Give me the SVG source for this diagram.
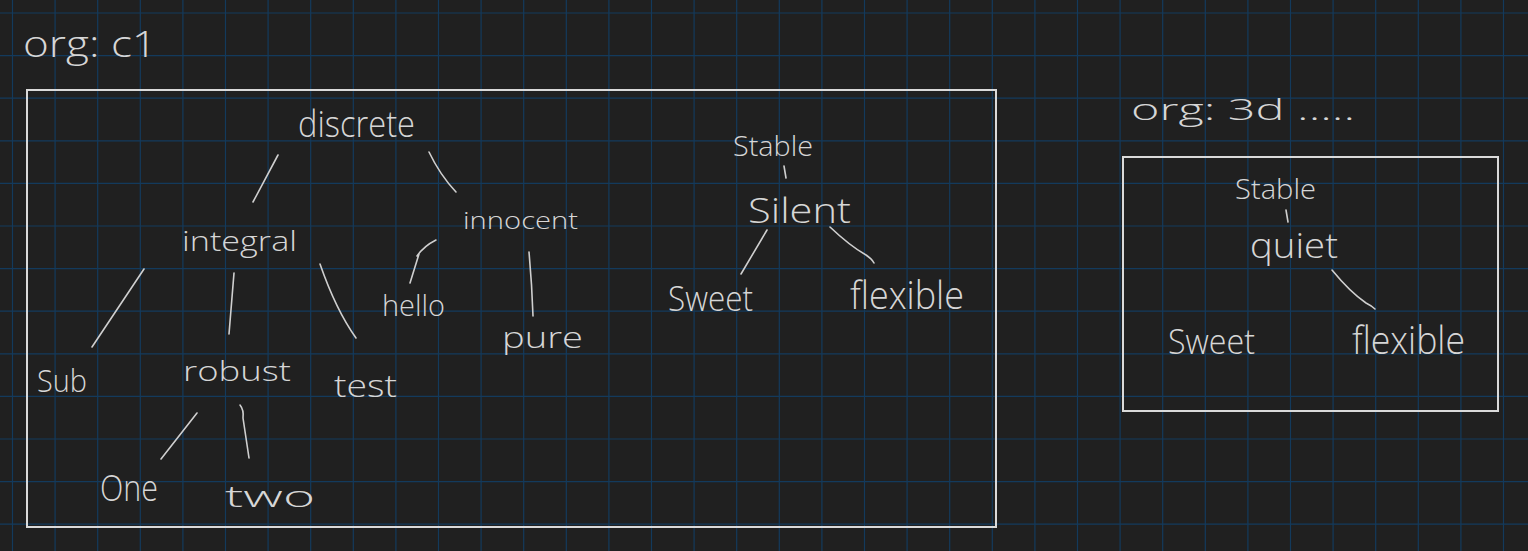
<svg xmlns="http://www.w3.org/2000/svg" width="1528" height="551" viewBox="0 0 1528 551">
<defs>
<style>
.grid{fill:none;stroke:#133a5c;stroke-width:1.2}
.t{font-family:"Open Sans","Liberation Sans",sans-serif;font-weight:300;fill:#d6d6d6}
.frame{fill:none;stroke:#dadada;stroke-width:2}
.c{fill:none;stroke:#cfcfcf;stroke-width:1.6;stroke-linecap:round;stroke-linejoin:round}
</style>
</defs>
<rect width="1528" height="551" fill="#202020"/>
<path class="grid" d="M12.5 0V551M55.1 0V551M97.7 0V551M140.3 0V551M182.9 0V551M225.5 0V551M268.1 0V551M310.7 0V551M353.3 0V551M395.9 0V551M438.5 0V551M481.1 0V551M523.7 0V551M566.3 0V551M608.9 0V551M651.5 0V551M694.1 0V551M736.7 0V551M779.3 0V551M821.9 0V551M864.5 0V551M907.1 0V551M949.7 0V551M992.3 0V551M1034.9 0V551M1077.5 0V551M1120.1 0V551M1162.7 0V551M1205.3 0V551M1247.9 0V551M1290.5 0V551M1333.1 0V551M1375.7 0V551M1418.3 0V551M1460.9 0V551M1503.5 0V551M0 13H1528M0 55.6H1528M0 98.2H1528M0 140.8H1528M0 183.4H1528M0 226H1528M0 268.6H1528M0 311.2H1528M0 353.8H1528M0 396.4H1528M0 439H1528M0 481.6H1528M0 524.2H1528"/>

<g id="cluster-c1">
<text class="t" x="23" y="57" font-size="36" textLength="134" lengthAdjust="spacingAndGlyphs">org: c1</text>
<rect class="frame" x="27" y="90" width="969" height="437"/>
</g>
<g id="cluster-3d">
<text class="t" x="1131" y="120" font-size="30" textLength="224" lengthAdjust="spacingAndGlyphs">org: 3d .....</text>
<rect class="frame" x="1123" y="157" width="375" height="254"/>
</g>

<g id="connectors">
<path class="c" d="M278 155 L253 202"/>
<path class="c" d="M429 152 Q440 175 456 192"/>
<path class="c" d="M144 269 L92 347"/>
<path class="c" d="M234 273 L229 334"/>
<path class="c" d="M320 264 Q336 310 356 338"/>
<path class="c" d="M410 283 L419 254 M417 256 Q424 246 436 240"/>
<path class="c" d="M529 252 Q532 285 533 316"/>
<path class="c" d="M197 413 L161 459"/>
<path class="c" d="M240 405 Q244 410 243 418 L249 458"/>
<path class="c" d="M784 166 L786 178"/>
<path class="c" d="M767 230 L741 274"/>
<path class="c" d="M830 227 Q850 246 866 255 Q872 259 874 263"/>
<path class="c" d="M1286 210 L1288 222"/>
<path class="c" d="M1332 270 Q1350 292 1366 303 Q1372 306 1375 309"/>
</g>

<g id="n-discrete"><text class="t" x="298" y="137" font-size="36" textLength="117" lengthAdjust="spacingAndGlyphs">discrete</text></g>
<g id="n-integral"><text class="t" x="182" y="251" font-size="28" textLength="115" lengthAdjust="spacingAndGlyphs">integral</text></g>
<g id="n-innocent"><text class="t" x="463" y="229" font-size="24" textLength="115" lengthAdjust="spacingAndGlyphs">innocent</text></g>
<g id="n-hello"><text class="t" x="382" y="316" font-size="30" textLength="63" lengthAdjust="spacingAndGlyphs">hello</text></g>
<g id="n-pure"><text class="t" x="502" y="348" font-size="30" textLength="81" lengthAdjust="spacingAndGlyphs">pure</text></g>
<g id="n-sub"><text class="t" x="37" y="392" font-size="32" textLength="50" lengthAdjust="spacingAndGlyphs">Sub</text></g>
<g id="n-robust"><text class="t" x="183" y="381" font-size="28" textLength="108" lengthAdjust="spacingAndGlyphs">robust</text></g>
<g id="n-test"><text class="t" x="334" y="397" font-size="32" textLength="63" lengthAdjust="spacingAndGlyphs">test</text></g>
<g id="n-one"><text class="t" x="100" y="501" font-size="36" textLength="58" lengthAdjust="spacingAndGlyphs">One</text></g>
<g id="n-two"><text class="t" x="225" y="507" font-size="30" textLength="90" lengthAdjust="spacingAndGlyphs">two</text></g>

<g id="n-stable-1"><text class="t" x="733" y="156" font-size="28" textLength="80" lengthAdjust="spacingAndGlyphs">Stable</text></g>
<g id="n-silent"><text class="t" x="748" y="223" font-size="34" textLength="103" lengthAdjust="spacingAndGlyphs">Silent</text></g>
<g id="n-sweet-1"><text class="t" x="668" y="311" font-size="34" textLength="85" lengthAdjust="spacingAndGlyphs">Sweet</text></g>
<g id="n-flexible-1"><text class="t" x="850" y="309" font-size="38" textLength="114" lengthAdjust="spacingAndGlyphs">flexible</text></g>

<g id="n-stable-2"><text class="t" x="1235" y="199" font-size="28" textLength="81" lengthAdjust="spacingAndGlyphs">Stable</text></g>
<g id="n-quiet"><text class="t" x="1250" y="258" font-size="34" textLength="88" lengthAdjust="spacingAndGlyphs">quiet</text></g>
<g id="n-sweet-2"><text class="t" x="1168" y="354" font-size="34" textLength="87" lengthAdjust="spacingAndGlyphs">Sweet</text></g>
<g id="n-flexible-2"><text class="t" x="1352" y="354" font-size="38" textLength="113" lengthAdjust="spacingAndGlyphs">flexible</text></g>
</svg>
